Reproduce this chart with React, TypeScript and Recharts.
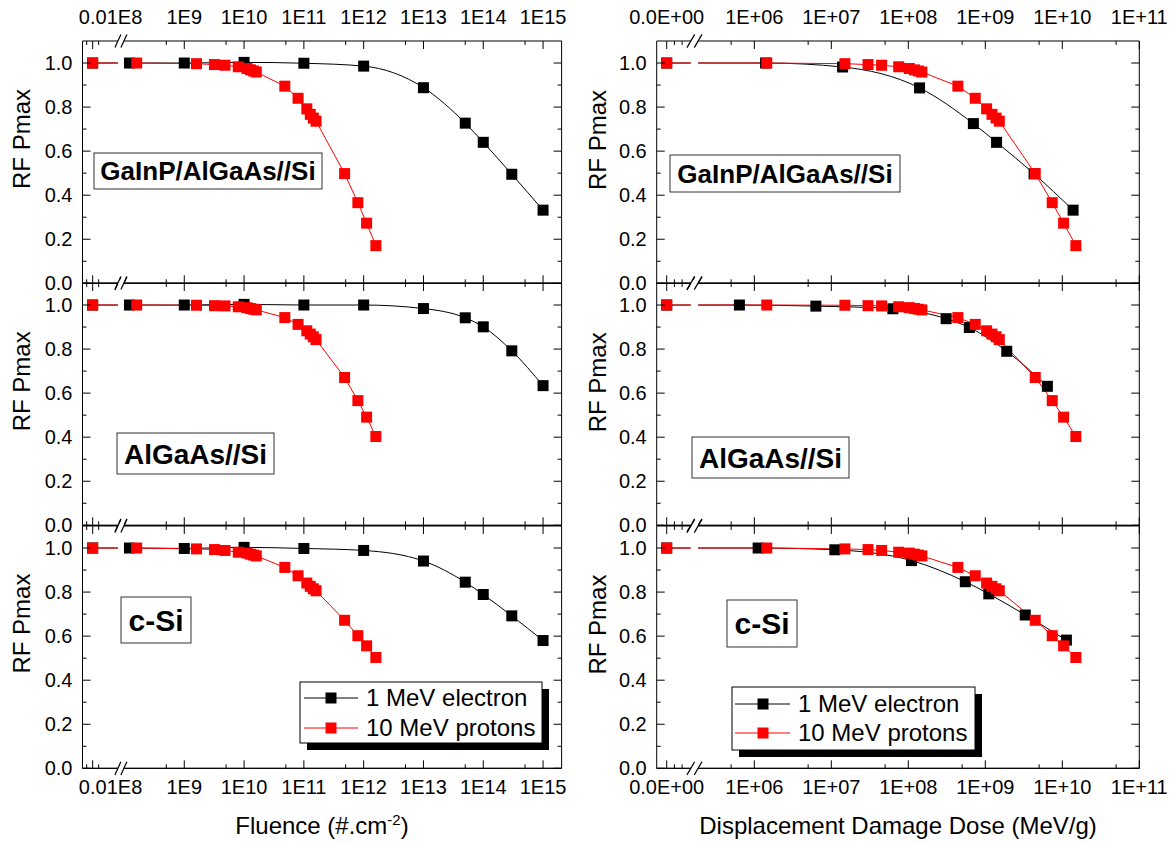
import React from 'react';
import { LineChart, Line, XAxis, YAxis, ReferenceLine, ReferenceArea } from 'recharts';

// 10 MeV proton steps: fluence (#/cm2) and displacement damage dose (MeV/g), 0 = before irradiation
const PROTON_FLUENCE = [0, 1.6e8, 1.6e9, 3.2e9, 4.8e9, 8e9, 1.12e10, 1.28e10, 1.44e10, 1.6e10, 4.8e10, 8e10, 1.12e11, 1.28e11, 1.44e11, 1.6e11, 4.8e11, 8e11, 1.12e12, 1.6e12];
const PROTON_DDD = [0, 1.45e6, 1.5e7, 3.0e7, 4.5e7, 7.5e7, 1.03e8, 1.2e8, 1.35e8, 1.5e8, 4.4e8, 7.4e8, 1.04e9, 1.22e9, 1.38e9, 1.52e9, 4.45e9, 7.4e9, 1.04e10, 1.5e10];
const PROTON_GAINP = [1.0, 1.0, 0.997, 0.993, 0.99, 0.983, 0.975, 0.969, 0.964, 0.959, 0.895, 0.84, 0.792, 0.767, 0.75, 0.736, 0.498, 0.366, 0.273, 0.171];
const PROTON_ALGAAS = [1.0, 1.0, 0.999, 0.997, 0.996, 0.992, 0.988, 0.984, 0.981, 0.978, 0.943, 0.912, 0.883, 0.868, 0.856, 0.843, 0.671, 0.566, 0.491, 0.403];
const PROTON_CSI = [1.0, 1.0, 0.996, 0.993, 0.989, 0.981, 0.977, 0.972, 0.968, 0.964, 0.912, 0.874, 0.841, 0.826, 0.815, 0.806, 0.672, 0.602, 0.556, 0.503];

// 1 MeV electron steps
const ELECTRON_FLUENCE = [0, 1.2e8, 1e9, 1e10, 1e11, 1e12, 1e13, 5e13, 1e14, 3e14, 1e15];
const ELECTRON_GAINP = [1.0, 1.0, 1.0, 1.003, 0.999, 0.986, 0.888, 0.727, 0.64, 0.495, 0.332];
const ELECTRON_ALGAAS = [1.0, 1.0, 1.0, 1.003, 1.0, 1.0, 0.984, 0.942, 0.901, 0.792, 0.634];
const ELECTRON_CSI = [1.0, 1.0, 0.998, 1.003, 0.998, 0.989, 0.941, 0.845, 0.789, 0.692, 0.58];

// electron dose per cell (only the steps that fall on the dose axis)
const ELECTRON_DDD_GAINP = [0, 1.4e6, 1.4e7, 1.4e8, 7.0e8, 1.4e9, 4.3e9, 1.38e10];
const ELECTRON_DDD_GAINP_RF = [1.0, 1.0, 0.982, 0.887, 0.725, 0.64, 0.497, 0.332];
const ELECTRON_DDD_ALGAAS = [0, 6.4e5, 6.3e6, 6.3e7, 3.1e8, 6.2e8, 1.9e9, 6.4e9];
const ELECTRON_DDD_ALGAAS_RF = [1.0, 1.0, 0.995, 0.983, 0.938, 0.898, 0.79, 0.631];
const ELECTRON_DDD_CSI = [0, 1.12e6, 1.11e7, 1.1e8, 5.5e8, 1.11e9, 3.3e9, 1.13e10];
const ELECTRON_DDD_CSI_RF = [1.0, 1.0, 0.992, 0.943, 0.847, 0.792, 0.696, 0.582];

const CELLS = ['GaInP/AlGaAs//Si', 'AlGaAs//Si', 'c-Si'];
const LEGEND = ['1 MeV electron', '10 MeV protons'];

const Y_TICKS = [0, 0.1, 0.2, 0.3, 0.4, 0.5, 0.6, 0.7, 0.8, 0.9, 1.0];

// where "0" sits on each broken log axis, and the break itself
const ZERO_FLUENCE = 10 ** 7.468;
const ZERO_DDD = 10 ** 4.862;
const FLUENCE_MAJOR = [ZERO_FLUENCE, 1e8, 1e9, 1e10, 1e11, 1e12, 1e13, 1e14, 1e15];
const FLUENCE_MINOR = [ZERO_FLUENCE / 10 ** 0.1, ZERO_FLUENCE * 10 ** 0.1, 5e8, 5e9, 5e10, 5e11, 5e12, 5e13, 5e14];
const DDD_MAJOR = [ZERO_DDD, 1e6, 1e7, 1e8, 1e9, 1e10, 1e11];
const DDD_MINOR = [ZERO_DDD * 10 ** 0.1, ZERO_DDD * 10 ** 0.2, 5e5, 5e6, 5e7, 5e8, 5e9, 5e10];

const FONT = "Arial, 'Liberation Sans', sans-serif";
const PANEL_TOP = [41, 283.3, 525.6];
const PLOT_H = 242.3;
const PAD = 40;
const Y_AXIS_W = 40;
const X_AXIS_H = 1;
const SQ = 11;

interface Column {
  left: number;
  width: number;
  plotLeft: number;
  plotRight: number;
  domain: [number, number];
  zero: number;
  brk: [number, number];
  major: number[];
  minor: number[];
  noTick: number[];
  fmt: (v: number) => string;
}

const LEFT: Column = {
  left: 0,
  width: 600,
  plotLeft: 82.5,
  plotRight: 561.6,
  domain: [10 ** 7.298, 10 ** 15.31],
  zero: ZERO_FLUENCE,
  brk: [10 ** 7.89, 10 ** 7.99],
  major: FLUENCE_MAJOR,
  minor: FLUENCE_MINOR,
  noTick: [1e8],
  fmt: (v) => (v === ZERO_FLUENCE ? '0.0' : `1E${Math.round(Math.log10(v))}`),
};

const RIGHT: Column = {
  left: 580,
  width: 593,
  plotLeft: 656.7,
  plotRight: 1139.3,
  domain: [10 ** 4.732, 1e11],
  zero: ZERO_DDD,
  brk: [10 ** 5.175, 10 ** 5.27],
  major: DDD_MAJOR,
  minor: DDD_MINOR,
  noTick: [],
  fmt: (v) => {
    if (v === ZERO_DDD) return '0.0E+00';
    const e = Math.round(Math.log10(v));
    return `1E+${e < 10 ? '0' : ''}${e}`;
  },
};

const toPoints = (xs: number[], ys: number[], zero: number) =>
  xs.map((v, i) => ({ x: v === 0 ? zero : v, y: ys[i] }));

const square = (fill: string) => (p: any) => (
  <rect key={`sq-${p.index}`} x={p.cx - SQ / 2} y={p.cy - SQ / 2} width={SQ} height={SQ} fill={fill} />
);

const XTick = (props: any) => {
  const { x, y, payload, col, showTop, showBottom } = props;
  const v = payload.value;
  const major = col.major.includes(v);
  const len = major ? 8 : 4;
  const top = y - PLOT_H;
  const label = major ? col.fmt(v) : '';
  const drawLine = !col.noTick.includes(v);
  return (
    <g>
      {drawLine && <line x1={x} y1={y} x2={x} y2={y - len} stroke="#000" />}
      {drawLine && <line x1={x} y1={top} x2={x} y2={top + len} stroke="#000" />}
      {showBottom && label && (
        <text x={x} y={y + 26} textAnchor="middle" fontSize={20} fontFamily={FONT} fill="#000">
          {label}
        </text>
      )}
      {showTop && label && (
        <text x={x} y={top - 17} textAnchor="middle" fontSize={20} fontFamily={FONT} fill="#000">
          {label}
        </text>
      )}
    </g>
  );
};

const YTick = (props: any) => {
  const { x, y, payload, plotW } = props;
  const v = payload.value;
  const major = Math.round(v * 10) % 2 === 0;
  const len = major ? 8 : 4;
  return (
    <g>
      <line x1={x} y1={y} x2={x + len} y2={y} stroke="#000" />
      <line x1={x + plotW} y1={y} x2={x + plotW - len} y2={y} stroke="#000" />
      {major && (
        <text x={x - 10} y={y} dy="0.35em" textAnchor="end" fontSize={20} fontFamily={FONT} fill="#000">
          {v.toFixed(1)}
        </text>
      )}
    </g>
  );
};

interface PanelProps {
  col: Column;
  row: number;
  redX: number[];
  redY: number[];
  blackX: number[];
  blackY: number[];
}

function Panel({ col, row, redX, redY, blackX, blackY }: PanelProps) {
  const plotW = col.plotRight - col.plotLeft;
  const red = toPoints(redX, redY, col.zero);
  const black = toPoints(blackX, blackY, col.zero);
  const ticks = [...col.major, ...col.minor].sort((a, b) => a - b);
  const slashes: { c: number; e: number }[] = [];
  col.brk.forEach((c) => [0, 1.1].forEach((e) => slashes.push({ c, e })));
  return (
    <div style={{ position: 'absolute', left: col.left, top: PANEL_TOP[row] - PAD }}>
      <LineChart
        width={col.width}
        height={PLOT_H + 2 * PAD}
        margin={{
          top: PAD,
          bottom: PAD - X_AXIS_H,
          left: col.plotLeft - col.left - Y_AXIS_W,
          right: col.left + col.width - col.plotRight,
        }}
      >
        <XAxis
          type="number"
          dataKey="x"
          scale="log"
          domain={col.domain}
          allowDataOverflow
          ticks={ticks}
          interval={0}
          height={X_AXIS_H}
          tickSize={0}
          tickMargin={0}
          tickLine={false}
          axisLine={{ stroke: '#000' }}
          tick={(p: any) => <XTick {...p} col={col} showTop={row === 0} showBottom={row === 2} />}
        />
        <YAxis
          type="number"
          domain={[0, 1.1]}
          ticks={Y_TICKS}
          interval={0}
          width={Y_AXIS_W}
          tickSize={0}
          tickMargin={0}
          tickLine={false}
          axisLine={{ stroke: '#000' }}
          tick={(p: any) => <YTick {...p} plotW={plotW} />}
        />
        <ReferenceLine y={1.1} stroke="#000" />
        <ReferenceLine y={0} stroke="#000" />
        <ReferenceLine x={col.domain[1]} stroke="#000" />
        <Line
          data={black}
          dataKey="y"
          type="monotone"
          stroke="#000"
          strokeWidth={1}
          dot={square('#000')}
          isAnimationActive={false}
        />
        <Line
          data={red}
          dataKey="y"
          type="linear"
          stroke="#ff0000"
          strokeWidth={1}
          dot={square('#ff0000')}
          isAnimationActive={false}
        />
        <ReferenceArea
          x1={col.brk[0]}
          x2={col.brk[1]}
          y1={-0.012}
          y2={1.112}
          fill="#fff"
          fillOpacity={1}
          stroke="none"
          ifOverflow="visible"
          zIndex={1500}
        />
        {slashes.map((s, i) => (
          <ReferenceLine
            key={`sl-${i}`}
            segment={[
              { x: s.c / 10 ** 0.05, y: s.e - 0.03 },
              { x: s.c * 10 ** 0.05, y: s.e + 0.03 },
            ]}
            stroke="#000"
            strokeWidth={1.2}
            ifOverflow="visible"
            zIndex={1600}
          />
        ))}
      </LineChart>
    </div>
  );
}

const BOXES = [
  { x: 94, y: 153, w: 228, h: 36, fs: 26 },
  { x: 117, y: 433, w: 157, h: 41, fs: 28 },
  { x: 121, y: 597, w: 70, h: 46, fs: 30 },
  { x: 670, y: 155, w: 230, h: 37, fs: 26 },
  { x: 692, y: 437, w: 157, h: 41, fs: 28 },
  { x: 727, y: 600, w: 70, h: 47, fs: 30 },
];

function LegendBox({ x, y, w, h, rows, lineX, markX, textX }: any) {
  return (
    <g>
      <rect x={x + 7} y={y + 7} width={w} height={h} fill="#000" />
      <rect x={x} y={y} width={w} height={h} fill="#fff" stroke="#000" />
      {LEGEND.map((t, i) => {
        const c = i === 0 ? '#000' : '#ff0000';
        return (
          <g key={t}>
            <line x1={lineX[0]} y1={rows[i]} x2={lineX[1]} y2={rows[i]} stroke={c} />
            <rect x={markX - SQ / 2} y={rows[i] - SQ / 2} width={SQ} height={SQ} fill={c} />
            <text x={textX} y={rows[i]} dy="0.35em" fontSize={24} fontFamily={FONT}>
              {t}
            </text>
          </g>
        );
      })}
    </g>
  );
}

export default function App() {
  const rows = [
    { red: PROTON_GAINP, el: ELECTRON_GAINP, ddd: ELECTRON_DDD_GAINP, dddRf: ELECTRON_DDD_GAINP_RF },
    { red: PROTON_ALGAAS, el: ELECTRON_ALGAAS, ddd: ELECTRON_DDD_ALGAAS, dddRf: ELECTRON_DDD_ALGAAS_RF },
    { red: PROTON_CSI, el: ELECTRON_CSI, ddd: ELECTRON_DDD_CSI, dddRf: ELECTRON_DDD_CSI_RF },
  ];
  return (
    <div style={{ position: 'absolute', left: 0, top: 0, width: 1173, height: 843, background: '#fff' }}>
      {rows.map((r, i) => (
        <Panel key={`l-${i}`} col={LEFT} row={i} redX={PROTON_FLUENCE} redY={r.red} blackX={ELECTRON_FLUENCE} blackY={r.el} />
      ))}
      {rows.map((r, i) => (
        <Panel key={`r-${i}`} col={RIGHT} row={i} redX={PROTON_DDD} redY={r.red} blackX={r.ddd} blackY={r.dddRf} />
      ))}
      <svg
        width={1173}
        height={843}
        style={{ position: 'absolute', left: 0, top: 0, pointerEvents: 'none' }}
        fontFamily={FONT}
      >
        {[0, 1, 2].map((i) => (
          <g key={`yl-${i}`}>
            <text x={30} y={PANEL_TOP[i] + 98} transform={`rotate(-90 30 ${PANEL_TOP[i] + 98})`} textAnchor="middle" fontSize={24}>
              RF Pmax
            </text>
            <text x={606} y={PANEL_TOP[i] + 99} transform={`rotate(-90 606 ${PANEL_TOP[i] + 99})`} textAnchor="middle" fontSize={24}>
              RF Pmax
            </text>
          </g>
        ))}
        <text x={322} y={834} textAnchor="middle" fontSize={24}>
          Fluence (#.cm<tspan dy={-9} fontSize={15}>-2</tspan>
          <tspan dy={9}>)</tspan>
        </text>
        <text x={898} y={834} textAnchor="middle" fontSize={24}>
          Displacement Damage Dose (MeV/g)
        </text>
        {BOXES.map((b, i) => (
          <g key={`box-${i}`}>
            <rect x={b.x} y={b.y} width={b.w} height={b.h} fill="#fff" stroke="#333" />
            <text x={b.x + b.w / 2} y={b.y + b.h / 2} dy="0.36em" textAnchor="middle" fontSize={b.fs} fontWeight="bold">
              {CELLS[i % 3]}
            </text>
          </g>
        ))}
        <LegendBox x={300} y={682} w={242} h={61} rows={[698, 728]} lineX={[304, 358]} markX={331} textX={366} />
        <LegendBox x={732} y={687} w={243} h={63} rows={[704, 733]} lineX={[735, 790]} markX={763} textX={798} />
      </svg>
    </div>
  );
}
